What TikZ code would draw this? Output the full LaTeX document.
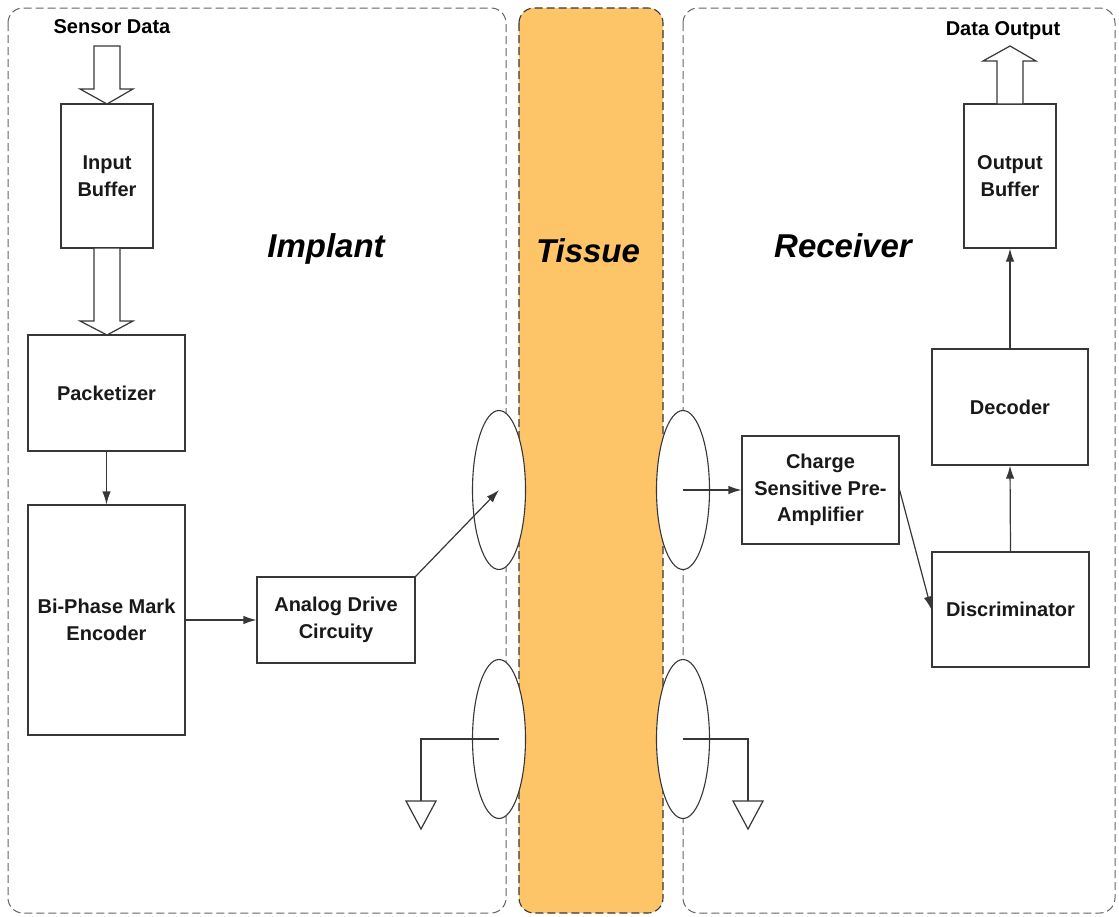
\documentclass[tikz,border=0pt]{standalone}
\usepackage{fontspec}
\setmainfont{Liberation Sans}
\usetikzlibrary{shapes.geometric,arrows.meta,calc}
\definecolor{tissuefill}{RGB}{253,197,104}
\definecolor{linegray}{RGB}{55,55,55}
\definecolor{panelgray}{RGB}{100,100,100}
\begin{document}
\begin{tikzpicture}[x=1pt,y=-1pt,
  panel/.style={draw=panelgray,line width=1pt,dash pattern=on 8pt off 4pt,rounded corners=15pt},
  tissuebox/.style={draw=linegray,fill=tissuefill,line width=1.1pt,dash pattern=on 8pt off 4pt,rounded corners=15pt},
  blockbox/.style={draw=linegray,line width=1.2pt,fill=white,inner sep=0pt,align=center,
     font=\fontsize{20}{26.5}\selectfont\bfseries,text=black!90},
  coil/.style={ellipse,draw=linegray,line width=1.1pt,fill=white,minimum width=53pt,minimum height=159pt,inner sep=0pt},
  conn/.style={draw=linegray,line width=1.2pt},
  arr/.style={conn,-{Latex[length=13pt,width=8.5pt]}},
  hollow/.style={draw=linegray,line width=1.2pt,fill=white},
  biglabel/.style={font=\fontsize{33}{40}\selectfont\bfseries\itshape,anchor=base,inner sep=0pt},
  smalllabel/.style={font=\fontsize{20}{24}\selectfont\bfseries,inner sep=0pt}
]
\useasboundingbox (0,0) rectangle (1119,916);
% panels
\draw[panel] (8,8) rectangle (506,913);
\draw[panel] (683,8) rectangle (1115,913);
\draw[tissuebox] (519,8) rectangle (663,913);
% labels
\node[biglabel] (limp) at (326,257) {Implant};
\node[biglabel] (ltis) at (588,262) {Tissue};
\node[biglabel] (lrec) at (843,257) {Receiver};
\node[smalllabel] (lsen) at (112,27) {Sensor Data};
\node[smalllabel] (lout) at (1003,31) {Data Output};
% coils
\node[coil] (e1) at (499,490) {};
\node[coil] (e2) at (683,490) {};
\node[coil] (e3) at (499,739) {};
\node[coil] (e4) at (683,739) {};
% blocks
\node[blockbox,minimum width=92pt,minimum height=144pt] (inbuf) at (107,176) {Input\\Buffer};
\node[blockbox,minimum width=157pt,minimum height=116pt] (pack) at (106.5,393) {Packetizer};
\node[blockbox,minimum width=157pt,minimum height=230pt] (bpm) at (106.5,620) {Bi-Phase Mark\\Encoder};
\node[blockbox,minimum width=158pt,minimum height=86pt] (adc) at (336,620) {Analog Drive\\Circuity};
\node[blockbox,minimum width=157pt,minimum height=108pt] (csa) at (820.5,490) {Charge\\Sensitive Pre-\\Amplifier};
\node[blockbox,minimum width=157pt,minimum height=115pt] (disc) at (1010.5,609.5) {Discriminator};
\node[blockbox,minimum width=156pt,minimum height=116pt] (dec) at (1010,407) {Decoder};
\node[blockbox,minimum width=92pt,minimum height=144pt] (outbuf) at (1010,176) {Output\\Buffer};
% hollow arrows
\draw[hollow] (94,46) -- (120,46) -- (120,89) -- (133,89) -- (107,104) -- (80,89) -- (94,89) -- cycle;
\draw[hollow] (94,248) -- (120,248) -- (120,321) -- (133,321) -- (107,335) -- (80,321) -- (94,321) -- cycle;
\draw[hollow] (997,104) -- (1023,104) -- (1023,61) -- (1036,61) -- (1010,46) -- (983,61) -- (997,61) -- cycle;
% connectors
\draw[arr] (pack.south) -- (bpm.north);
\draw[arr] (bpm.east) -- (adc.west);
\draw[arr] (adc.north east) -- (e1.center);
\draw[arr] (e2.center) -- (csa.west);
\draw[arr] (csa.east) -- (disc.west);
\draw[arr] (disc.north) -- (dec.south);
\draw[arr] (dec.north) -- (outbuf.south);
% grounds
\coordinate (g1) at (421,801);
\coordinate (g2) at (748,801);
\draw[conn] (e3.center) -| (g1);
\draw[conn] (e4.center) -| (g2);
\draw[hollow] ($(g1)+(-15,0)$) -- ($(g1)+(15,0)$) -- ($(g1)+(0,28)$) -- cycle;
\draw[hollow] ($(g2)+(-15,0)$) -- ($(g2)+(15,0)$) -- ($(g2)+(0,28)$) -- cycle;
\end{tikzpicture}
\end{document}
